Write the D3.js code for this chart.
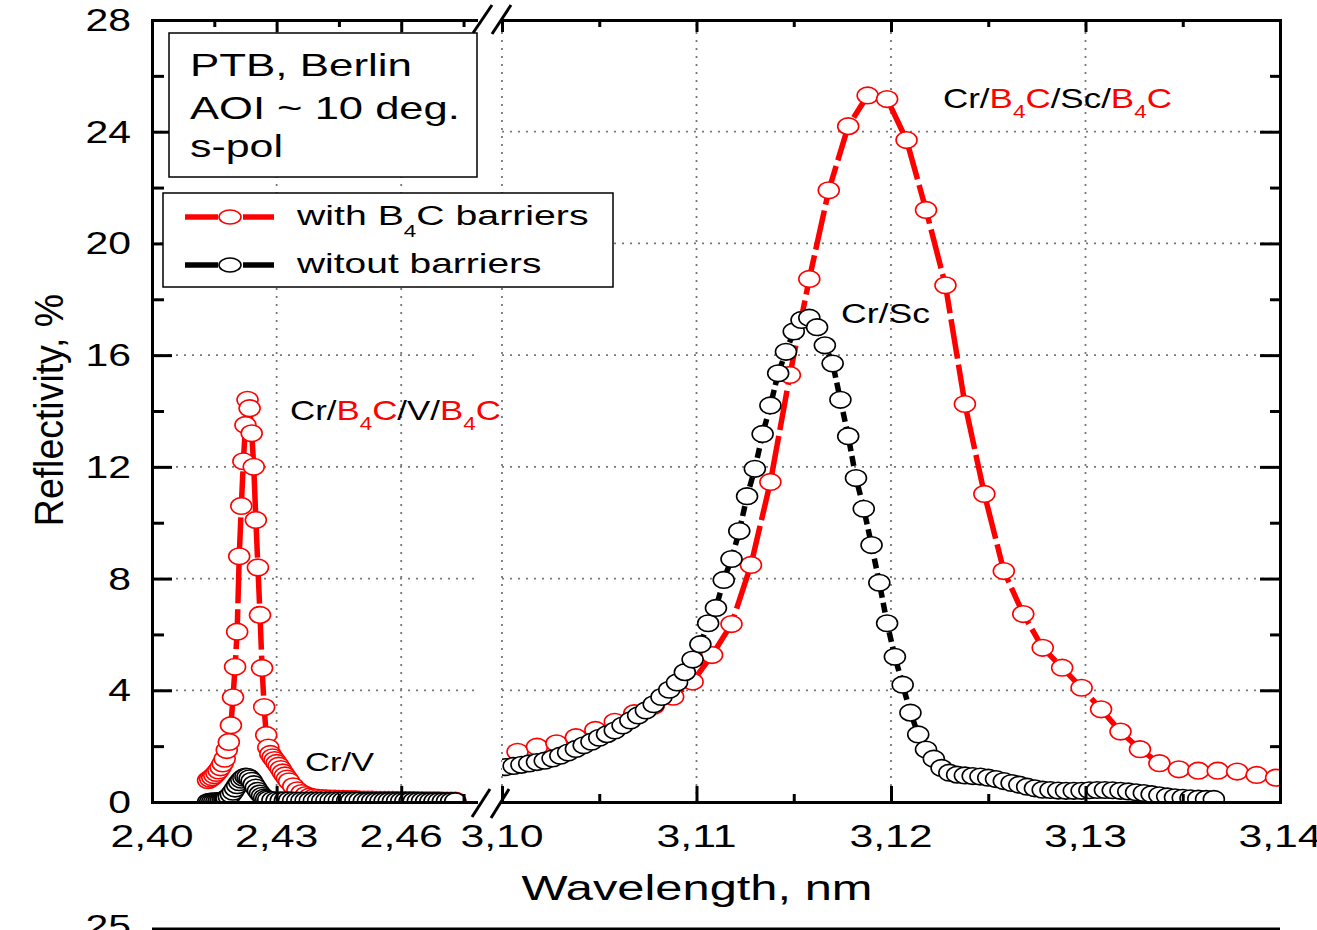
<!DOCTYPE html>
<html><head><meta charset="utf-8">
<script src="https://cdn.jsdelivr.net/npm/d3@7"></script>
<style>body{margin:0;background:#fff}svg{display:block}text{font-family:"Liberation Sans",Arial,sans-serif}</style>
</head><body><svg id="c" width="1317" height="930"></svg>
<script>
// ---------- data ----------
const redLeftX=[2.4135,2.4140,2.4145,2.4150,2.4155,2.4160,2.4165,2.4170,2.4175,2.4180,
2.4185,2.4190,2.4195,2.4200,2.4205,2.4210,2.4215,2.4220,2.4225,2.4230,
2.4235,2.4240,2.4245,2.4250,2.4255,2.4260,2.4265,2.4270,2.4275,2.4280,
2.4285,2.4290,2.4295,2.4300,2.4305,2.4310,2.4315,2.4320,2.4325,2.4330,
2.434,2.435,2.436,2.437,2.438,2.439,2.440,2.441,2.442,2.443,
2.444,2.445,2.446,2.447,2.448,2.449,2.450,2.451,2.452,2.453,
2.454,2.455,2.456,2.457,2.458,2.459,2.460,2.461,2.462,2.463,
2.464,2.465,2.466,2.467,2.468,2.469,2.470,2.471,2.472,2.473];
const redLeftY=[0.78,0.83,0.89,0.96,1.04,1.13,1.24,1.38,1.55,1.86,
2.15,2.75,3.75,4.84,6.10,8.80,10.6,12.2,13.5,14.4,
14.1,13.2,12.0,10.1,8.4,6.7,4.8,3.4,2.4,1.95,
1.72,1.60,1.50,1.40,1.30,1.18,1.06,0.95,0.84,0.74,
0.56,0.42,0.32,0.25,0.20,0.17,0.15,0.14,0.13,0.12,
0.12,0.11,0.11,0.10,0.10,0.10,0.09,0.09,0.09,0.09,
0.08,0.08,0.08,0.08,0.08,0.07,0.07,0.07,0.07,0.07,
0.06,0.06,0.06,0.06,0.06,0.06,0.05,0.05,0.05,0.05];
const blackLeftX=[2.4135,2.4140,2.4145,2.4150,2.4155,2.4160,2.4165,2.4170,2.4175,2.4180,
2.4185,2.4190,2.4195,2.4200,2.4205,2.4210,2.4215,2.4220,2.4225,2.4230,
2.4235,2.4240,2.4245,2.4250,2.4255,2.4260,2.4265,2.4270,2.4275,2.4280,
2.4290,2.4300,
2.431,2.432,2.433,2.434,2.435,2.436,2.437,2.438,2.439,2.440,
2.441,2.442,2.443,2.444,2.445,2.446,2.447,2.448,2.449,2.450,
2.451,2.452,2.453,2.454,2.455,2.456,2.457,2.458,2.459,2.460,
2.461,2.462,2.463,2.464,2.465,2.466,2.467,2.468,2.469,2.470,
2.471,2.472,2.473];
const blackLeftY=[0.00,0.01,0.01,0.02,0.02,0.03,0.04,0.06,0.09,0.13,
0.19,0.27,0.37,0.48,0.60,0.71,0.80,0.87,0.91,0.90,
0.85,0.76,0.64,0.52,0.40,0.30,0.22,0.16,0.12,0.09,
0.07,0.06,
0.06,0.06,0.06,0.05,0.05,0.05,0.05,0.05,0.05,0.05,
0.05,0.05,0.05,0.05,0.05,0.05,0.05,0.05,0.05,0.05,
0.04,0.04,0.04,0.04,0.04,0.04,0.04,0.04,0.04,0.04,
0.04,0.04,0.04,0.04,0.04,0.03,0.03,0.03,0.03,0.03,
0.03,0.03,0.03];
const redRightX=[3.1008,3.1018,3.1028,3.1038,3.1048,3.1058,3.1068,3.1078,3.1088,3.1098,
3.1108,3.1118,3.1128,3.1138,3.1148,3.1158,3.1168,3.1178,3.1188,3.1198,
3.1208,3.1218,3.1228,3.1238,3.1248,3.1258,3.1268,3.1278,3.1288,3.1298,
3.1308,3.1318,3.1328,3.1338,3.1348,3.1358,3.1368,3.1378,3.1388,3.1398];
const redRightY=[1.80,1.98,2.10,2.32,2.58,2.87,3.18,3.45,3.77,4.31,
5.26,6.37,8.49,11.46,15.29,18.73,21.9,24.2,25.3,25.17,
23.7,21.2,18.5,14.25,11.03,8.27,6.73,5.52,4.81,4.09,
3.32,2.52,1.89,1.39,1.17,1.12,1.12,1.09,0.97,0.87];
const blackRightX=[3.1002,3.1006,3.1010,3.1014,3.1018,3.1022,3.1026,3.1030,3.1034,3.1038,
3.1042,3.1046,3.1050,3.1054,3.1058,3.1062,3.1066,3.1070,3.1074,3.1078,
3.1082,3.1086,3.1090,3.1094,3.1098,3.1102,3.1106,3.1110,3.1114,3.1118,
3.1122,3.1126,3.1130,3.1134,3.1138,3.1142,3.1146,3.1150,3.1154,3.1158,
3.1162,3.1166,3.1170,3.1174,3.1178,3.1182,3.1186,3.1190,3.1194,3.1198,
3.1202,3.1206,3.1210,3.1214,3.1218,3.1222,3.1226,3.1230,3.1234,3.1238,
3.1242,3.1246,3.1250,3.1254,3.1258,3.1262,3.1266,3.1270,3.1274,3.1278,
3.1282,3.1286,3.1290,3.1294,3.1298,3.1302,3.1306,3.1310,3.1314,3.1318,
3.1322,3.1326,3.1330,3.1334,3.1338,3.1342,3.1346,3.1350,3.1354,3.1358,
3.1362,3.1366];
const blackRightY=[1.25,1.29,1.33,1.38,1.43,1.48,1.56,1.66,1.77,1.90,
2.03,2.16,2.30,2.43,2.56,2.74,2.92,3.10,3.28,3.50,
3.76,4.02,4.28,4.65,5.10,5.65,6.40,6.95,7.95,8.70,
9.70,10.95,11.93,13.18,14.2,15.35,16.12,16.85,17.26,17.34,
17.0,16.35,15.7,14.4,13.1,11.6,10.5,9.2,7.85,6.4,
5.2,4.2,3.2,2.42,1.88,1.55,1.22,1.05,0.98,0.95,
0.93,0.91,0.87,0.82,0.75,0.68,0.62,0.55,0.49,0.44,
0.43,0.41,0.40,0.40,0.40,0.42,0.43,0.43,0.42,0.40,
0.38,0.35,0.32,0.28,0.24,0.20,0.17,0.15,0.13,0.12,
0.11,0.11];
const yTicks=[0,4,8,12,16,20,24,28];
const yMinor=[2,6,10,14,18,22,26];
const xLeftTicks=[2.40,2.43,2.46];
const xLeftMinor=[2.415,2.445,2.475];
const xRightTicks=[3.10,3.11,3.12,3.13,3.14];
const xRightMinor=[3.105,3.115,3.125,3.135];
const infoLines=["PTB, Berlin","AOI ~ 10 deg.","s-pol"];

// ---------- setup ----------
const svg=d3.select("#c");
const y=d3.scaleLinear().domain([0,28]).range([802,20]);
const xL=d3.scaleLinear().domain([2.40,2.478]).range([152,476]);
const xR=d3.scaleLinear().domain([3.10,3.14]).range([502,1280]);
const fmt=d3.formatLocale({decimal:",",thousands:".",grouping:[3],currency:["",""]}).format(".2f");
const RED="#ff0000";

// grid
const grid=svg.append("g").attr("stroke","#777").attr("stroke-width",1.8).attr("stroke-dasharray","2,6");
[[xL,xLeftTicks.slice(1)],[xR,xRightTicks.slice(0,-1)]].forEach(([xs,tv])=>{
  const r=xs.range();
  yTicks.slice(1,-1).forEach(v=>grid.append("line").attr("x1",r[0]).attr("x2",r[1]).attr("y1",y(v)).attr("y2",y(v)));
  tv.forEach(v=>grid.append("line").attr("x1",xs(v)).attr("x2",xs(v)).attr("y1",y(0)).attr("y2",y(28)));
});

// clips
const defs=svg.append("defs");
defs.append("clipPath").attr("id","clipL").append("rect").attr("x",152).attr("y",20).attr("width",324).attr("height",782);
defs.append("clipPath").attr("id","clipR").append("rect").attr("x",502).attr("y",20).attr("width",778).attr("height",782);

function series(xs,X,Y,color,dash,clip){
  const data=X.map((v,i)=>[v,Y[i]]);
  const g=svg.append("g").attr("clip-path",`url(#${clip})`);
  g.append("path").datum(data).attr("d",d3.line().x(d=>xs(d[0])).y(d=>y(d[1])))
    .attr("fill","none").attr("stroke",color).attr("stroke-width",5.5).attr("stroke-dasharray",dash);
  g.selectAll("ellipse").data(data).join("ellipse").attr("cx",d=>xs(d[0])).attr("cy",d=>y(d[1]))
    .attr("rx",10.5).attr("ry",8.3).attr("fill","#fff").attr("stroke",color).attr("stroke-width",1.6);
}
series(xL,redLeftX,redLeftY,RED,"40,6","clipL");
series(xL,blackLeftX,blackLeftY,"#000","10,5","clipL");
series(xR,redRightX,redRightY,RED,"40,6","clipR");
series(xR,blackRightX,blackRightY,"#000","10,5","clipR");

// axes
function ax(gen,tx,ty,vals,size,keepDomain){
  const g=svg.append("g").attr("transform",`translate(${tx},${ty})`)
    .call(gen.tickValues(vals).tickSize(size).tickSizeOuter(0).tickFormat(""));
  g.selectAll("path,line").attr("stroke","#000").attr("stroke-width",3);
  g.select(".domain").attr("stroke-linecap","square");
  if(!keepDomain) g.select(".domain").remove();
  g.selectAll("text").remove();
}
ax(d3.axisLeft(y),152,0,yTicks,-20,true);
ax(d3.axisLeft(y),152,0,yMinor,-12,false);
ax(d3.axisRight(y),1280,0,yTicks,-20,true);
ax(d3.axisRight(y),1280,0,yMinor,-10,false);
ax(d3.axisBottom(xL),0,802,xLeftTicks.slice(1),-16,true);
ax(d3.axisBottom(xL),0,802,xLeftMinor,-8,false);
ax(d3.axisTop(xL),0,20,xLeftTicks.slice(1),-12,true);
ax(d3.axisTop(xL),0,20,xLeftMinor,-7,false);
ax(d3.axisBottom(xR),0,802,xRightTicks.slice(0,-1),-16,true);
ax(d3.axisBottom(xR),0,802,xRightMinor,-8,false);
ax(d3.axisTop(xR),0,20,xRightTicks.slice(0,-1),-12,true);
ax(d3.axisTop(xR),0,20,xRightMinor,-7,false);

// break marks
const brk=svg.append("g").attr("stroke","#000").attr("stroke-width",3);
[[473,33,492,5],[492,34,511,5],[472,817,490,789],[491,818,509,789]].forEach(s=>
  brk.append("line").attr("x1",s[0]).attr("y1",s[1]).attr("x2",s[2]).attr("y2",s[3]));

// text helper
function txt(x,yy,parts,o){
  const t=svg.append("text").attr("font-size",o.size).attr("text-anchor",o.anchor||"start").attr("fill","#000");
  let down=false;
  parts.forEach(p=>{
    if(typeof p==="string") p={t:p};
    const s=t.append("tspan").text(p.t).attr("fill",p.c||"#000");
    if(p.sub){s.attr("font-size",o.subSize).attr("dy",o.subDy);down=true;}
    else if(down){s.attr("dy",-o.subDy);down=false;}
  });
  let sx=o.sx||1.35;
  if(o.w){sx=o.w/t.node().getBBox().width;}
  t.attr("transform",`translate(${x},${yy}) scale(${sx},1)`);
  return t;
}

// tick labels
xLeftTicks.forEach(v=>txt(xL(v),847,[fmt(v)],{size:31,anchor:"middle",sx:1.38}));
xRightTicks.forEach(v=>txt(xR(v),847,[fmt(v)],{size:31,anchor:"middle",sx:1.38}));
yTicks.forEach(v=>txt(131,y(v)+11,[String(v)],{size:31,anchor:"end",sx:1.32}));
txt(131,937,["25"],{size:31,anchor:"end",sx:1.32});
svg.append("line").attr("x1",152).attr("x2",1280).attr("y1",929).attr("y2",929).attr("stroke","#000").attr("stroke-width",3);

// axis titles
txt(697,900,["Wavelength, nm"],{size:35,anchor:"middle",w:351});
svg.append("text").text("Reflectivity, %").attr("font-size",35).attr("text-anchor","middle")
  .attr("transform","translate(63,410) scale(1.15,1.07) rotate(-90)");

// info box
svg.append("rect").attr("x",169).attr("y",33).attr("width",308).attr("height",144).attr("fill","#fff").attr("stroke","#000").attr("stroke-width",1.5);
txt(190,76,[infoLines[0]],{size:32,w:222});
txt(190,119,[infoLines[1]],{size:32,w:270});
txt(190,157,[infoLines[2]],{size:32,w:93});

// legend
svg.append("rect").attr("x",163).attr("y",193).attr("width",450).attr("height",94).attr("fill","#fff").attr("stroke","#000").attr("stroke-width",1.5);
[[217,RED],[265,"#000"]].forEach(([ly,c])=>{
  svg.append("line").attr("x1",185).attr("x2",218).attr("y1",ly).attr("y2",ly).attr("stroke",c).attr("stroke-width",5.5);
  svg.append("line").attr("x1",243).attr("x2",274).attr("y1",ly).attr("y2",ly).attr("stroke",c).attr("stroke-width",5.5);
  svg.append("ellipse").attr("cx",230).attr("cy",ly).attr("rx",11).attr("ry",7).attr("fill","#fff").attr("stroke",c).attr("stroke-width",1.6);
});
txt(297,225,["with B",{t:"4",sub:true},"C barriers"],{size:28,subSize:16,subDy:12,w:293});
txt(297,273,["witout barriers"],{size:28,w:246});

// annotations
txt(290,420,["Cr/",{t:"B",c:RED},{t:"4",c:RED,sub:true},{t:"C",c:RED},"/V/",{t:"B",c:RED},{t:"4",c:RED,sub:true},{t:"C",c:RED}],{size:28,subSize:18,subDy:10,w:211});
txt(943,108,["Cr/",{t:"B",c:RED},{t:"4",c:RED,sub:true},{t:"C",c:RED},"/Sc/",{t:"B",c:RED},{t:"4",c:RED,sub:true},{t:"C",c:RED}],{size:28,subSize:18,subDy:10,w:229});
txt(841,323,["Cr/Sc"],{size:28,w:89});
txt(305,771,["Cr/V"],{size:26,w:70});
</script></body></html>
